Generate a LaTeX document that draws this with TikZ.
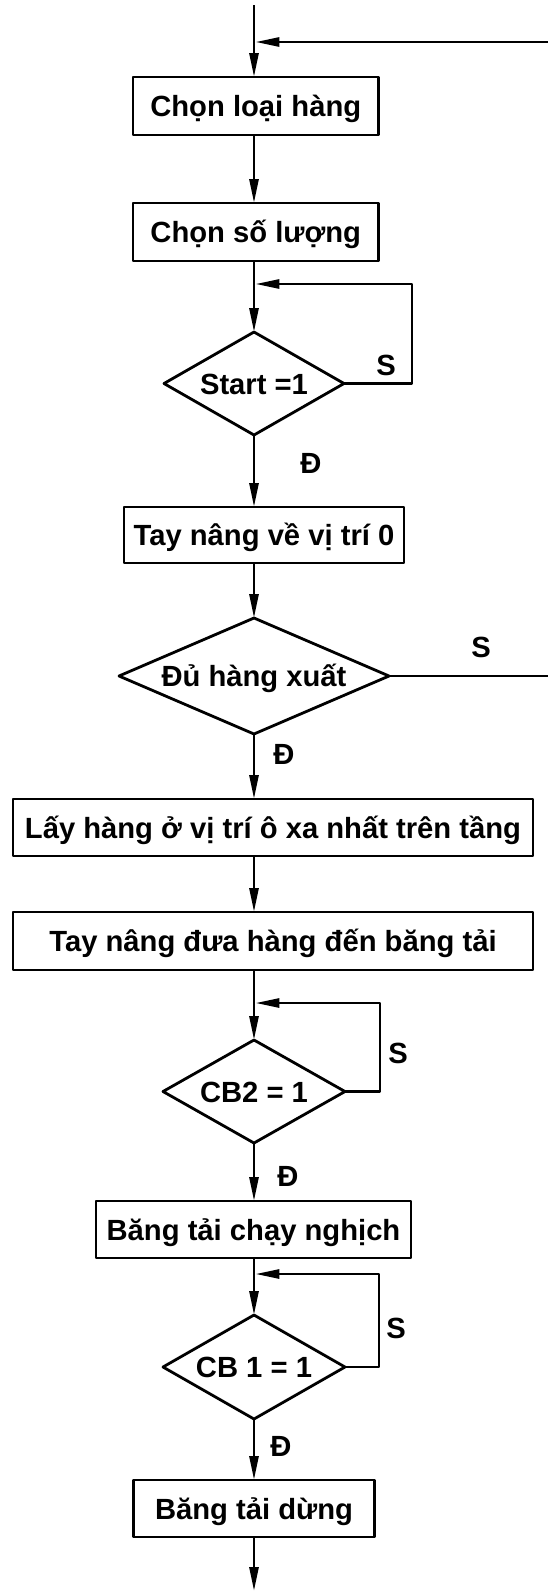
\documentclass[tikz,border=0pt]{standalone}
\usepackage{fontspec}
\setmainfont{Liberation Sans}
\usetikzlibrary{arrows.meta,shapes.geometric}

\tikzset{
  every node/.style={font=\fontsize{29.2}{35}\selectfont\bfseries},
  flow/.style={line width=2.8pt, line join=round},
  arr/.style={flow, -{Triangle[length=24pt,width=9pt]}},
  pbox/.style={draw, flow, rectangle, inner sep=0pt, outer sep=0pt,
    text height=21pt, text depth=0pt},
  cond/.style={draw, flow, diamond, aspect=1.75, inner sep=0pt, outer sep=0pt,
    text height=21pt, text depth=0pt},
  tag/.style={inner sep=0pt, text height=21pt, text depth=0pt}
}

\begin{document}
\begin{tikzpicture}[x=1pt, y=-1pt]
  \fill[white] (0,0) rectangle (548,1591);
  \useasboundingbox (0,0) rectangle (548,1591);

  % reference points on the main axis and at the page edges
  \coordinate (ax)  at (254,0);
  \coordinate (top) at (254,5);
  \coordinate (rin) at (548,42);
  \coordinate (bot) at (254,1591);
  \coordinate (l1)  at (412,284);
  \coordinate (l3)  at (380,1003);
  \coordinate (l4)  at (379,1274);

  % process steps and decisions
  \node[pbox, minimum width=245.5pt, minimum height=58pt] (b1) at (255.75,106) {Chọn loại hàng};
  \node[pbox, minimum width=245.5pt, minimum height=58pt] (b2) at (255.75,232) {Chọn số lượng};
  \node[cond, minimum width=180pt, minimum height=103pt] (d1) at (254,383.5) {Start =1};
  \node[pbox, minimum width=280pt, minimum height=56pt] (b3) at (264,535) {Tay nâng về vị trí 0};
  \node[cond, aspect=2.33, minimum width=270pt, minimum height=116pt] (d2) at (254,676) {Đủ hàng xuất};
  \node[pbox, minimum width=520pt, minimum height=57pt] (b4) at (273,827.5) {Lấy hàng ở vị trí ô xa nhất trên tầng\hspace{6pt}};
  \node[pbox, minimum width=520pt, minimum height=58pt] (b5) at (273,941) {Tay nâng đưa hàng đến băng tải\hspace{20pt}};
  \node[cond, minimum width=182pt, minimum height=103pt] (d3) at (254,1091.5) {CB2 = 1};
  \node[pbox, minimum width=315pt, minimum height=57pt] (b6) at (253.5,1229.5) {Băng tải chạy nghịch};
  \node[cond, minimum width=182pt, minimum height=104pt] (d4) at (254,1367) {CB 1 = 1};
  \node[pbox, minimum width=241pt, minimum height=57pt] (b7) at (254,1508.5) {Băng tải dừng\hspace{6pt}};

  % main flow
  \draw[arr] (top) -- (b1.north -| ax);
  \draw[arr] (b1.south -| ax) -- (b2.north -| ax);
  \draw[arr] (b2.south -| ax) -- (d1.north);
  \draw[arr] (d1.south) -- (b3.north -| ax);
  \draw[arr] (b3.south -| ax) -- (d2.north);
  \draw[arr] (d2.south) -- (b4.north -| ax);
  \draw[arr] (b4.south -| ax) -- (b5.north -| ax);
  \draw[arr] (b5.south -| ax) -- (d3.north);
  \draw[arr] (d3.south) -- (b6.north -| ax);
  \draw[arr] (b6.south -| ax) -- (d4.north);
  \draw[arr] (d4.south) -- (b7.north -| ax);
  \draw[arr] (b7.south -| ax) -- (bot);

  % return paths
  \draw[arr, shorten >=1.4pt] (rin) -- (rin -| ax);
  \draw[flow] (d2.east) -- (d2.east -| rin);
  \draw[arr, shorten >=1.4pt] (d1.east) -| (l1) -- (l1 -| ax);
  \draw[arr, shorten >=1.4pt] (d3.east) -| (l3) -- (l3 -| ax);
  \draw[arr, shorten >=1.4pt] (d4.east) -| (l4) -- (l4 -| ax);

  % branch labels
  \node[tag] (s1) at (386,365) {S};
  \node[tag] (y1) at (311,463) {Đ};
  \node[tag] (s2) at (481,647) {S};
  \node[tag] (y2) at (284,754) {Đ};
  \node[tag] (s3) at (398,1053) {S};
  \node[tag] (y3) at (288,1176) {Đ};
  \node[tag] (s4) at (396,1328) {S};
  \node[tag] (y4) at (281,1446) {Đ};
\end{tikzpicture}
\end{document}
